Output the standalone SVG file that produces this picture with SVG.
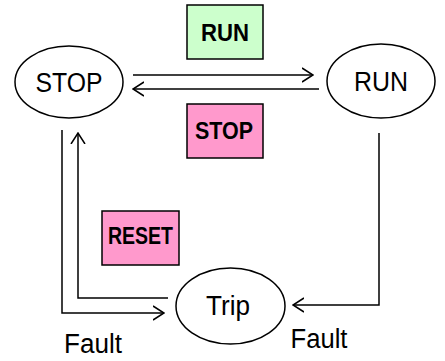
<svg xmlns="http://www.w3.org/2000/svg" width="445" height="361" viewBox="0 0 445 361">
<style>
.node{fill:#fff;stroke:#000;stroke-width:1.5}
.lbl{font-family:"Liberation Sans",Arial,sans-serif;font-size:27px;fill:#000;text-anchor:middle}
.tag{font-family:"Liberation Sans",Arial,sans-serif;font-size:24px;font-weight:bold;fill:#000;text-anchor:middle}
.box{stroke:#000;stroke-width:1.5}
.wire{fill:none;stroke:#000;stroke-width:1.5}
</style>
<defs>
<marker id="ah" viewBox="0 0 12 16" refX="11" refY="8" markerWidth="12" markerHeight="16" markerUnits="userSpaceOnUse" orient="auto">
<path d="M0,1 L11,8 L0,15" fill="none" stroke="#000" stroke-width="1.5"/>
</marker>
</defs>
<g id="connectors">
<line class="wire" x1="133" y1="75" x2="313" y2="75" marker-end="url(#ah)"/>
<line class="wire" x1="319" y1="89" x2="133" y2="89" marker-end="url(#ah)"/>
<polyline class="wire" points="62,130 62,313 164,313" marker-end="url(#ah)"/>
<polyline class="wire" points="168,298 78,298 78,133" marker-end="url(#ah)"/>
<polyline class="wire" points="379,133 379,305 293,305" marker-end="url(#ah)"/>
</g>
<g id="stop">
<ellipse class="node" cx="69" cy="82" rx="54" ry="36"/>
<text class="lbl" x="69" y="92" textLength="67" lengthAdjust="spacingAndGlyphs">STOP</text>
</g>
<g id="run">
<ellipse class="node" cx="381" cy="81" rx="54" ry="37"/>
<text class="lbl" x="381" y="91" textLength="54" lengthAdjust="spacingAndGlyphs">RUN</text>
</g>
<g id="trip">
<ellipse class="node" cx="230.5" cy="306" rx="54.5" ry="38"/>
<text class="lbl" x="228" y="315" textLength="44" lengthAdjust="spacingAndGlyphs">Trip</text>
</g>
<g id="label-run">
<rect class="box" x="187" y="5" width="76" height="54" fill="#ccffcc"/>
<text class="tag" x="225" y="41" textLength="48" lengthAdjust="spacingAndGlyphs">RUN</text>
</g>
<g id="label-stop">
<rect class="box" x="187" y="104" width="76" height="54" fill="#ff99cc"/>
<text class="tag" x="224" y="139" textLength="58" lengthAdjust="spacingAndGlyphs">STOP</text>
</g>
<g id="label-reset">
<rect class="box" x="102" y="211" width="77" height="54" fill="#ff99cc"/>
<text class="tag" x="140.5" y="244" textLength="65" lengthAdjust="spacingAndGlyphs">RESET</text>
</g>
<g id="fault-left">
<text class="lbl" x="93" y="353" textLength="58" lengthAdjust="spacingAndGlyphs">Fault</text>
</g>
<g id="fault-right">
<text class="lbl" x="319" y="348" textLength="57" lengthAdjust="spacingAndGlyphs">Fault</text>
</g>
</svg>
